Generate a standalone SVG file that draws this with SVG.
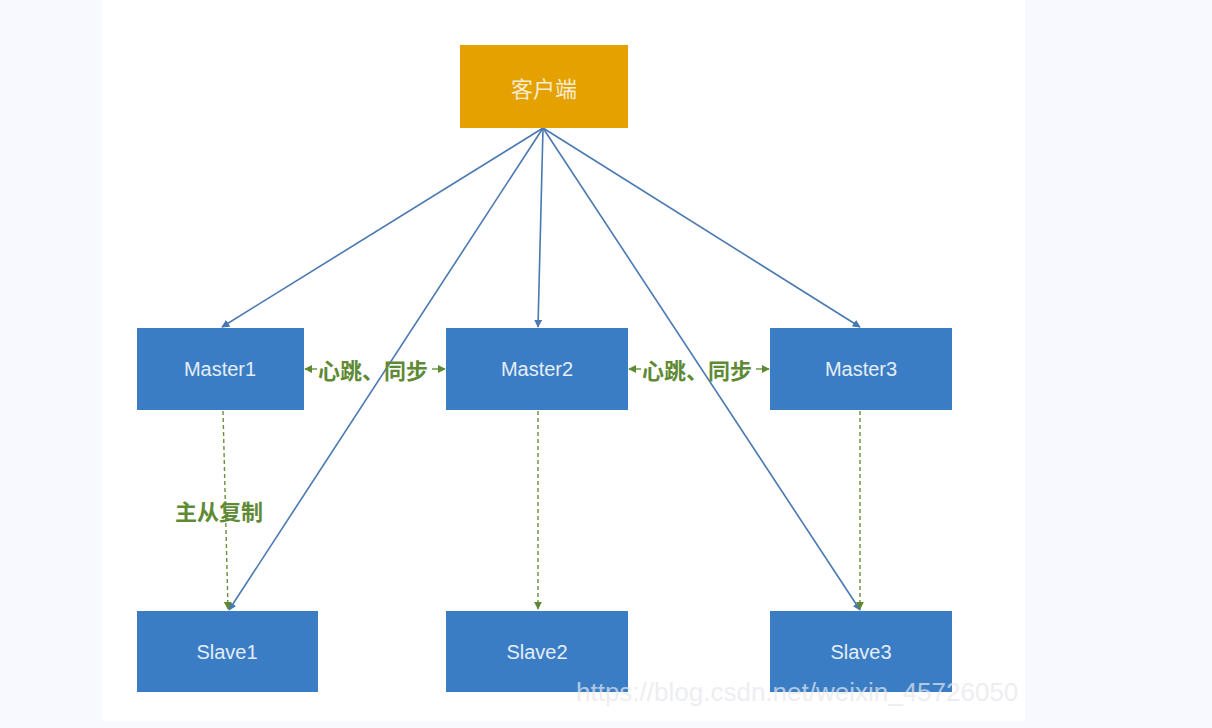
<svg xmlns="http://www.w3.org/2000/svg" width="1212" height="728" viewBox="0 0 1212 728">
<style>
.bg{fill:#f8f9fe}
.panel{fill:#ffffff}
.box{fill:#3a7dc5}
.client{fill:#e5a100}
.lbl{font-family:"Liberation Sans","Noto Sans CJK SC",sans-serif;font-size:20px;fill:#e6eef8;text-anchor:middle;dominant-baseline:central}
.clbl{font-family:"Noto Sans CJK SC",sans-serif;font-size:22px;fill:#f6ecd0;text-anchor:middle;dominant-baseline:central}
.glbl{font-family:"Noto Sans CJK SC","Liberation Sans",sans-serif;font-size:22px;font-weight:bold;fill:#5f8a35;dominant-baseline:central}
.blue{stroke:#4a78b2;stroke-width:1.6;fill:none;marker-end:url(#ab)}
.green{stroke:#6b8f3a;stroke-width:1.4;stroke-dasharray:4 3;fill:none;marker-end:url(#ag)}
.wm{font-family:"Liberation Sans",sans-serif;font-size:26px;fill:#e6e8ec;opacity:0.7}
</style>
<defs>
<marker id="ab" viewBox="0 0 10 10" refX="9" refY="5" markerWidth="8" markerHeight="8" orient="auto" markerUnits="userSpaceOnUse">
<path d="M0,0 L10,5 L0,10 z" fill="#4a78b2"/>
</marker>
<marker id="ag" viewBox="0 0 10 10" refX="9" refY="5" markerWidth="8" markerHeight="8" orient="auto" markerUnits="userSpaceOnUse">
<path d="M0,0 L10,5 L0,10 z" fill="#5f8a35"/>
</marker>
<marker id="agl" viewBox="0 0 10 10" refX="9" refY="5" markerWidth="8" markerHeight="8" orient="auto-start-reverse" markerUnits="userSpaceOnUse">
<path d="M0,0 L10,5 L0,10 z" fill="#5f8a35"/>
</marker>
</defs>
<rect class="bg" x="0" y="0" width="1212" height="728"/>
<rect class="panel" x="102" y="0" width="923" height="721"/>

<g id="connectors">
<line class="blue" x1="543" y1="128" x2="222" y2="327"/>
<line class="blue" x1="543" y1="128" x2="229" y2="610"/>
<line class="blue" x1="543" y1="128" x2="538" y2="327"/>
<line class="blue" x1="543" y1="128" x2="860" y2="610"/>
<line class="blue" x1="543" y1="128" x2="860" y2="327"/>
<line class="green" x1="223" y1="411" x2="228" y2="609"/>
<line class="green" x1="538" y1="411" x2="538" y2="609"/>
<line class="green" x1="860" y1="411" x2="860" y2="609"/>
<line x1="305" y1="369" x2="317" y2="369" stroke="#6b8f3a" stroke-width="1.4" marker-start="url(#agl)"/>
<line x1="432" y1="369" x2="445" y2="369" stroke="#6b8f3a" stroke-width="1.4" marker-end="url(#ag)"/>
<line x1="629" y1="369" x2="641" y2="369" stroke="#6b8f3a" stroke-width="1.4" marker-start="url(#agl)"/>
<line x1="756" y1="369" x2="769" y2="369" stroke="#6b8f3a" stroke-width="1.4" marker-end="url(#ag)"/>
<text class="glbl" x="318" y="369">心跳、同步</text>
<text class="glbl" x="642" y="369">心跳、同步</text>
<text class="glbl" x="175" y="510">主从复制</text>
</g>

<g id="client">
<rect class="client" x="460" y="45" width="168" height="83"/>
<text class="clbl" x="544" y="87">客户端</text>
</g>
<g id="master1">
<rect class="box" x="137" y="328" width="167" height="82"/>
<text class="lbl" x="220" y="369">Master1</text>
</g>
<g id="master2">
<rect class="box" x="446" y="328" width="182" height="82"/>
<text class="lbl" x="537" y="369">Master2</text>
</g>
<g id="master3">
<rect class="box" x="770" y="328" width="182" height="82"/>
<text class="lbl" x="861" y="369">Master3</text>
</g>
<g id="slave1">
<rect class="box" x="137" y="611" width="181" height="81"/>
<text class="lbl" x="227" y="652">Slave1</text>
</g>
<g id="slave2">
<rect class="box" x="446" y="611" width="182" height="81"/>
<text class="lbl" x="537" y="652">Slave2</text>
</g>
<g id="slave3">
<rect class="box" x="770" y="611" width="182" height="81"/>
<text class="lbl" x="861" y="652">Slave3</text>
</g>
<text class="wm" x="576" y="701">https://blog.csdn.net/weixin_45726050</text>
</svg>
